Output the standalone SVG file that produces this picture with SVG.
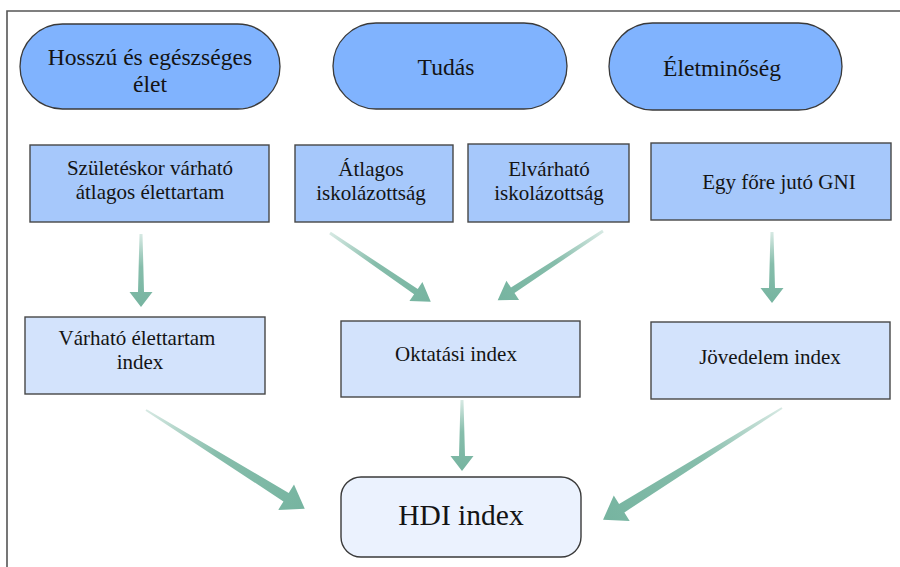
<svg xmlns="http://www.w3.org/2000/svg" width="900" height="567" viewBox="0 0 900 567">
<style>
  .t{fill:#141414;text-anchor:middle}
  .big{font-size:23.6px}
  .mid{font-size:21px}
  .hdi{font-size:29.5px}
  .ell{fill:#80b3fe;stroke:#3a3a3a;stroke-width:1.3}
  .b2{fill:#a6c8fb;stroke:#474747;stroke-width:1.4}
  .b3{fill:#d3e3fc;stroke:#474747;stroke-width:1.4}
  .b4{fill:#ebf2fe;stroke:#3a3a3a;stroke-width:1.4}
  .frame{stroke:#555;stroke-width:1.6;fill:none}
  .arr{fill:url(#ag)}
</style>
<defs>
  <linearGradient id="ag" x1="0" y1="0" x2="1" y2="0">
    <stop offset="0" stop-color="#79b6a2" stop-opacity="0.3"/>
    <stop offset="0.45" stop-color="#79b6a2" stop-opacity="0.9"/>
    <stop offset="1" stop-color="#76b4a0"/>
  </linearGradient>
</defs>
<rect width="900" height="567" fill="#fff"/>
<path class="frame" d="M7,567 V11 H900"/>

<g font-family="'Liberation Serif', 'DejaVu Serif', serif">
<g id="n-hossz"><rect class="ell" x="20" y="24" width="260" height="85" rx="42.5"/>
  <text class="t big" x="150" y="65">Hosszú és egészséges</text>
  <text class="t big" x="150" y="92">élet</text></g>
<g id="n-tudas"><rect class="ell" x="333" y="23" width="234" height="86" rx="43"/>
  <text class="t big" x="446" y="75">Tudás</text></g>
<g id="n-eletmin"><rect class="ell" x="609" y="23" width="233" height="87" rx="43.5"/>
  <text class="t big" x="722" y="76">Életminőség</text></g>

<g id="n-szul"><rect class="b2" x="30" y="145" width="239" height="77"/>
  <text class="t mid" x="150" y="175">Születéskor várható</text>
  <text class="t mid" x="150" y="199">átlagos élettartam</text></g>
<g id="n-atl"><rect class="b2" x="295" y="145" width="158" height="77"/>
  <text class="t mid" x="371" y="176">Átlagos</text>
  <text class="t mid" x="371" y="200">iskolázottság</text></g>
<g id="n-elv"><rect class="b2" x="468" y="144" width="161" height="78"/>
  <text class="t mid" x="549" y="176">Elvárható</text>
  <text class="t mid" x="549" y="200">iskolázottság</text></g>
<g id="n-gni"><rect class="b2" x="651" y="143" width="240" height="77"/>
  <text class="t mid" x="779" y="189">Egy főre jutó GNI</text></g>

<g id="n-varh"><rect class="b3" x="25" y="317" width="240" height="77"/>
  <text class="t mid" x="137" y="345">Várható élettartam</text>
  <text class="t mid" x="140" y="369">index</text></g>
<g id="n-okt"><rect class="b3" x="341" y="321" width="239" height="76"/>
  <text class="t mid" x="456" y="361">Oktatási index</text></g>
<g id="n-jov"><rect class="b3" x="651" y="322" width="239" height="77"/>
  <text class="t mid" x="770" y="364">Jövedelem index</text></g>

<g id="n-hdi"><rect class="b4" x="341" y="477" width="240" height="80" rx="20"/>
  <text class="t hdi" x="461" y="525">HDI index</text></g>
</g>

<g id="connectors">
  <path class="arr" transform="translate(141,234) rotate(90)" d="M0,-1.5 L58,-3 L58,-11.5 L73,0 L58,11.5 L58,3 L0,1.5 Z"/>
  <path class="arr" transform="translate(330,233) rotate(34.3)" d="M0,-1.5 L104,-3.2 L104,-11.5 L122,0 L104,11.5 L104,3.2 L0,1.5 Z"/>
  <path class="arr" transform="translate(603,231) rotate(146.7)" d="M0,-1.5 L108,-3.2 L108,-11.5 L126,0 L108,11.5 L108,3.2 L0,1.5 Z"/>
  <path class="arr" transform="translate(772,232) rotate(90)" d="M0,-1.5 L56,-3 L56,-11.5 L71,0 L56,11.5 L56,3 L0,1.5 Z"/>
  <path class="arr" transform="translate(146,410) rotate(31.9)" d="M0,-1 L165,-5 L165,-15 L187,0 L165,15 L165,5 L0,1 Z"/>
  <path class="arr" transform="translate(462,400) rotate(90)" d="M0,-1.5 L56,-3 L56,-11.5 L71,0 L56,11.5 L56,3 L0,1.5 Z"/>
  <path class="arr" transform="translate(782,408) rotate(148)" d="M0,-1 L189,-5 L189,-15 L211,0 L189,15 L189,5 L0,1 Z"/>
</g>
</svg>
